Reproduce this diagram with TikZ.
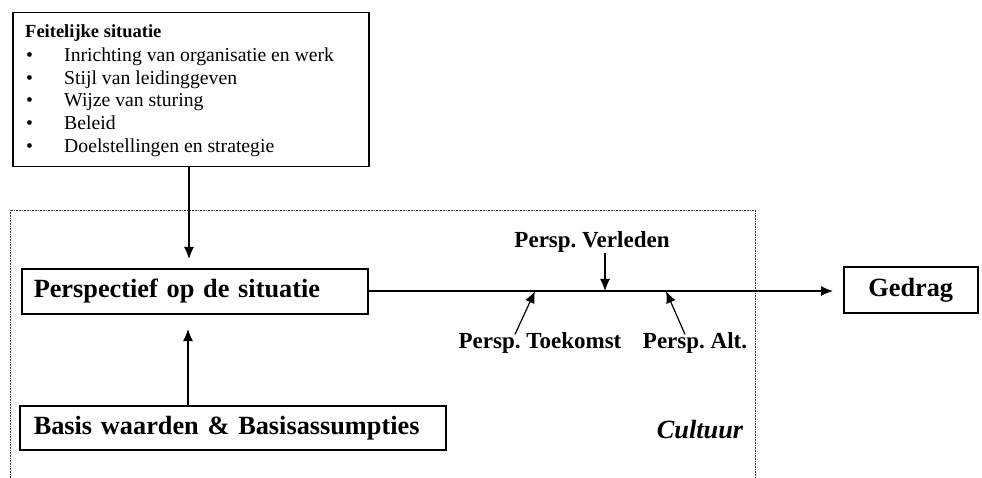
\documentclass[tikz,border=0pt]{standalone}
\usepackage{fontspec}
\setmainfont{Liberation Serif}
\usetikzlibrary{arrows.meta}
\frenchspacing
\begin{document}
\begin{tikzpicture}[x=1pt,y=-1pt,
  box/.style={draw,line width=1.5pt,inner sep=0pt},
  arr/.style={line width=1.2pt,-{Latex[length=12pt,width=10pt]}},
  big/.style={font=\fontsize{26.3}{30}\selectfont\bfseries},
  lab/.style={font=\fontsize{23}{26}\selectfont\bfseries,inner sep=0pt},
  item/.style={font=\fontsize{19.7}{22}\selectfont,anchor=mid west,inner sep=0pt},
  cult/.style={draw=black!80,line width=0.8pt,dash pattern=on 0.8pt off 0.8pt}]
\useasboundingbox (0,0) rectangle (982,478);
% culture frame
\draw[cult] (10,478) -- (10,210) -- (755,210) -- (755,478);
% top box
\node[box,minimum width=356pt,minimum height=154pt,anchor=north west] (feit) at (12,12) {};
\node[font=\fontsize{18.5}{21}\selectfont\bfseries,anchor=mid west,inner sep=0pt] (head) at (25,35) {Feitelijke situatie};
\foreach \t/\y in {Inrichting van organisatie en werk/59,Stijl van leidinggeven/82,Wijze van sturing/104,Beleid/127,Doelstellingen en strategie/150}{
  \node[item] at (26,\y) {•};
  \node[item] at (64,\y) {\t};
}
% perspective box
\node[box,big,minimum height=45pt,text width=322pt,align=left,inner xsep=12pt,anchor=west] (persp) at (21,291.5) {Perspectief op de situatie};
% basis box
\node[box,big,minimum height=44pt,text width=398pt,align=left,inner xsep=14pt,anchor=west] (basis) at (19,428) {Basis waarden \& Basisassumpties};
% gedrag box
\node[box,big,minimum height=46pt,minimum width=134pt,anchor=west] (gedrag) at (843,290) {Gedrag};
% labels
\node[lab] (verl) at (592,242) {Persp. Verleden};
\node[lab] (toek) at (540,343) {Persp. Toekomst};
\node[lab] (alt) at (695,343) {Persp. Alt.};
\node[font=\fontsize{26.3}{30}\selectfont\bfseries\itshape] (cultuur) at (700,430) {Cultuur};
% connectors
\coordinate (pv) at (605,291);
\coordinate (pt) at (535,291);
\coordinate (pa) at (666,291);
\draw[arr] (189,166) -- (189,259);
\draw[arr] (basis.north -| 188,0) -- (188,329);
\draw[arr] (persp.east |- 0,291) -- ([xshift=-10pt]gedrag.west |- 0,291);
\draw[arr] (verl.south -| pv) -- (pv);
\draw[arr] ([xshift=-25pt,yshift=-2pt]toek.north) -- (pt);
\draw[arr] ([xshift=-10pt,yshift=-2pt]alt.north) -- (pa);
\end{tikzpicture}
\end{document}
